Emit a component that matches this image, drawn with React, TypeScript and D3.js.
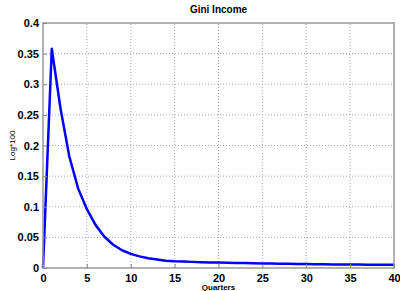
import * as d3 from 'd3'
import { useRef, useEffect } from 'react'

// quarters 0..40 and the Gini response (Log*100)
const quarters = d3.range(0, 41)
const gini = [
  0, 0.358, 0.26, 0.182, 0.13, 0.096, 0.07, 0.051, 0.038, 0.029,
  0.023, 0.019, 0.016, 0.014, 0.012, 0.011, 0.0105, 0.01, 0.0095, 0.009,
  0.0088, 0.0085, 0.0082, 0.008, 0.0077, 0.0075, 0.0072, 0.007, 0.0068, 0.0066,
  0.0064, 0.0062, 0.006, 0.0059, 0.0058, 0.0057, 0.0056, 0.0055, 0.0054, 0.0053, 0.0052,
]
const xTicks = [0, 5, 10, 15, 20, 25, 30, 35, 40]
const yTicks = [0, 0.05, 0.1, 0.15, 0.2, 0.25, 0.3, 0.35, 0.4]

const W = 400
const H = 291
const margin = { top: 23, right: 6, bottom: 23, left: 43 }

const App = () => {
  const xAxis = useRef<SVGGElement>(null)
  const yAxis = useRef<SVGGElement>(null)

  const xScale = d3.scaleLinear().domain([0, 40]).range([margin.left, W - margin.right])
  const yScale = d3.scaleLinear().domain([0, 0.4]).range([H - margin.bottom, margin.top])

  const line = d3.line<number>()
    .x((d, i) => xScale(quarters[i]))
    .y(d => yScale(d))

  useEffect(() => {
    const xa = d3.axisBottom(xScale).tickValues(xTicks).tickFormat(d => String(d)).tickSize(-4).tickPadding(6)
    const ya = d3.axisLeft(yScale).tickValues(yTicks).tickFormat(d => String(+d)).tickSize(-4).tickPadding(4)
    d3.select(xAxis.current).call(xa)
    d3.select(yAxis.current).call(ya)
    for (const ax of [xAxis.current, yAxis.current]) {
      const s = d3.select(ax)
      s.select('.domain').remove()
      s.selectAll('line').attr('stroke', '#888')
      s.selectAll('text')
        .attr('fill', '#000')
        .style('font-family', 'Arial, "Liberation Sans", sans-serif')
        .style('font-size', '11px')
        .style('font-weight', 'bold')
    }
  })

  const x0 = margin.left
  const x1 = W - margin.right
  const y0 = H - margin.bottom
  const y1 = margin.top

  return (
    <svg width={W} height={H} style={{ position: 'absolute', left: 0, top: 0, background: '#fff' }}>
      <g stroke="#aaa" strokeWidth={1} strokeDasharray="1,2">
        {xTicks.slice(1, -1).map(t => (
          <line key={'gx' + t} x1={xScale(t)} x2={xScale(t)} y1={y0} y2={y1} />
        ))}
        {yTicks.slice(1, -1).map(t => (
          <line key={'gy' + t} x1={x0} x2={x1} y1={yScale(t)} y2={yScale(t)} />
        ))}
      </g>
      <path d={line(gini) ?? ''} fill="none" stroke="#0000ff" strokeWidth={2.5} strokeLinejoin="round" />
      <rect x={x0} y={y1} width={x1 - x0} height={y0 - y1} fill="none" stroke="#999" strokeWidth={1.5} />
      <g ref={xAxis} transform={`translate(0, ${y0})`} />
      <g ref={yAxis} transform={`translate(${x0}, 0)`} />
      <text x={(x0 + x1) / 2} y={13} textAnchor="middle"
        style={{ fontFamily: 'Arial, "Liberation Sans", sans-serif', fontSize: 10, fontWeight: 'bold' }}>
        Gini Income
      </text>
      <text x={(x0 + x1) / 2} y={H - 1} textAnchor="middle"
        style={{ fontFamily: 'Arial, "Liberation Sans", sans-serif', fontSize: 8, fontWeight: 'bold' }}>
        Quarters
      </text>
      <text transform={`translate(15, ${(y0 + y1) / 2}) rotate(-90)`} textAnchor="middle"
        style={{ fontFamily: 'Arial, "Liberation Sans", sans-serif', fontSize: 8 }}>
        Log*100
      </text>
    </svg>
  )
}

export default App
